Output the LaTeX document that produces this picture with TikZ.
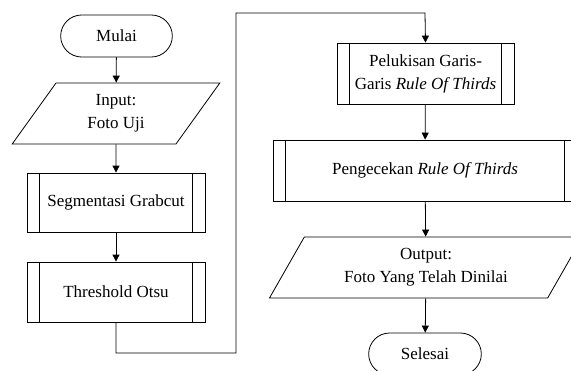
\documentclass[tikz,border=0pt]{standalone}
\usepackage{fontspec}
\setmainfont{Liberation Serif}
\usetikzlibrary{shapes.geometric,shapes.misc,arrows.meta}

\tikzset{
	terminal/.style={draw, rounded rectangle, minimum width=123pt, minimum height=42pt},
	io/.style={draw, trapezium, trapezium left angle=63, trapezium right angle=117, trapezium stretches=true, minimum height=61pt, align=center},
	subproc/.style={draw, rectangle, minimum height=60pt, align=center,
		path picture={\draw ([xshift=12.5pt]path picture bounding box.north west)--([xshift=12.5pt]path picture bounding box.south west);
			\draw ([xshift=-12.5pt]path picture bounding box.north east)--([xshift=-12.5pt]path picture bounding box.south east);}},
	flow/.style={-{Triangle[length=7pt,width=7pt]}}
}

\begin{document}
\begin{tikzpicture}[x=1pt, y={(0pt,-1pt)}, line width=0.8pt]
	\fontsize{17}{23}\selectfont
	\clip (0,0) rectangle (571,370);
	\useasboundingbox (0,0) rectangle (571,370);
	
	\node[terminal] (mulai) at (116.5,36) {Mulai};
	\node[io, minimum width=208pt] (input) at (116,113.5) {Input:\\Foto Uji};
	\node[subproc, minimum width=178pt, minimum height=59pt] (segmen) at (116,202.5) {Segmentasi Grabcut};
	\node[subproc, minimum width=178pt] (otsu) at (116,292) {Threshold Otsu};
	
	\node[subproc, minimum width=177pt, minimum height=61pt] (garis) at (425.5,73.5) {Pelukisan Garis-\\Garis \textit{Rule Of Thirds}};
	\node[subproc, minimum width=304pt, minimum height=61pt] (cek) at (425,170.5) {Pengecekan \textit{Rule Of Thirds}};
	\node[io, minimum width=314pt] (output) at (426,267.5) {Output:\\Foto Yang Telah Dinilai};
	\node[terminal, minimum width=124pt] (selesai) at (425,354) {Selesai};
	
	\coordinate (c1) at (116,353);
	\coordinate (c2) at (236,353);
	\coordinate (c3) at (236,13);
	\coordinate (c4) at (425,13);
	
	\draw[flow] (mulai)--(input);
	\draw[flow] (input)--(segmen);
	\draw[flow] (segmen)--(otsu);
	\draw[flow] (otsu.south)--(c1)--(c2)--(c3)--(c4)--(garis.north);
	\draw[flow] (garis)--(cek);
	\draw[flow] (cek)--(output);
	\draw[flow] (output)--(selesai);
\end{tikzpicture}
\end{document}
